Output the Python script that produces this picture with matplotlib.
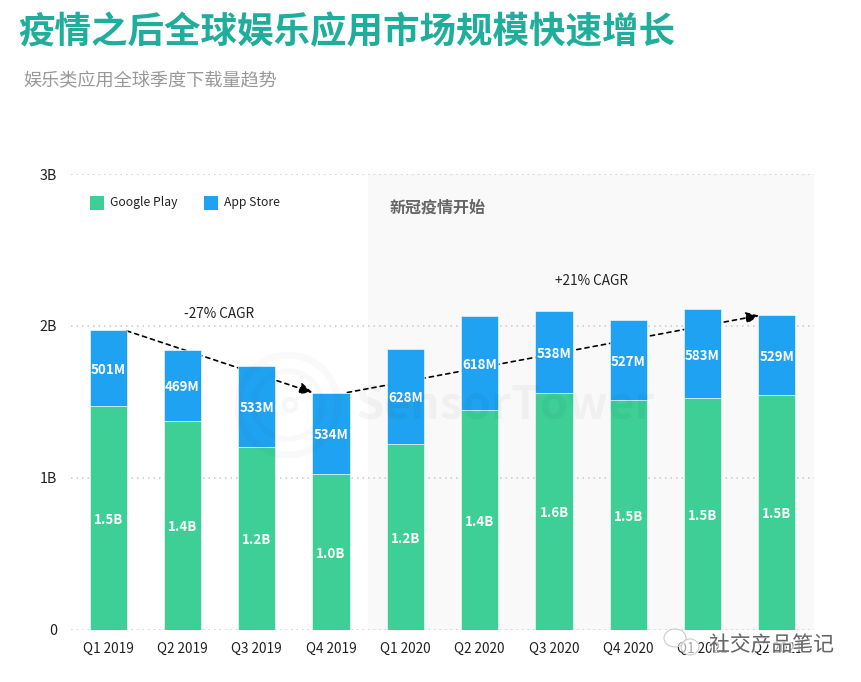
import numpy as np
import matplotlib
matplotlib.use("Agg")
import matplotlib.pyplot as plt
import matplotlib.patheffects as pe
from matplotlib.patches import Circle, Ellipse, Rectangle
from matplotlib.transforms import IdentityTransform

plt.rcParams["font.family"] = ["Noto Sans CJK SC", "DejaVu Sans"]

quarters = ["Q1 2019", "Q2 2019", "Q3 2019", "Q4 2019", "Q1 2020",
            "Q2 2020", "Q3 2020", "Q4 2020", "Q1 2021", "Q2 2021"]
google_play = [1.472, 1.373, 1.202, 1.024, 1.222, 1.446, 1.558, 1.512, 1.525, 1.545]
app_store = [0.501, 0.469, 0.533, 0.534, 0.628, 0.618, 0.538, 0.527, 0.583, 0.529]
google_labels = ["1.5B", "1.4B", "1.2B", "1.0B", "1.2B", "1.4B", "1.6B", "1.5B", "1.5B", "1.5B"]
apple_labels = ["501M", "469M", "533M", "534M", "628M", "618M", "538M", "527M", "583M", "529M"]
yticks = [0, 1, 2, 3]
ytick_labels = ["0", "1B", "2B", "3B"]

GREEN = "#3ecf96"
BLUE = "#1fa2f1"
W, H = 862, 682

fig = plt.figure(figsize=(W / 100, H / 100), dpi=100, facecolor="white")
ax = fig.add_axes([71 / W, 1 - 629.5 / H, 743 / W, 455.5 / H])
x = np.arange(len(quarters))

ax.axvspan(3.5, 9.5, color="#f9f9f9", lw=0, zorder=0)
for v in yticks:
    ax.axhline(v, color="#c9c9c9", lw=1.1, ls=(0, (1, 2.6)), zorder=1)

# dashed trend arrows sit behind the bars
arrow_style = dict(arrowstyle="-|>,head_length=0.55,head_width=0.25", mutation_scale=14,
                   ls=(0, (2.5, 2.5)), lw=1.2, color="black", shrinkA=0, shrinkB=0)
ax.annotate("", xy=(2.75, 1.561), xytext=(0.25, 1.967), zorder=2, arrowprops=arrow_style)
ax.annotate("", xy=(8.76, 2.068), xytext=(3.22, 1.561), zorder=2, arrowprops=arrow_style)

ax.bar(x, google_play, width=0.5, color=GREEN, edgecolor="white", lw=0.4, zorder=3)
ax.bar(x, app_store, width=0.5, bottom=google_play, color=BLUE, edgecolor="white", lw=0.4, zorder=3)

for i in x:
    ax.annotate(google_labels[i], (i, google_play[i] / 2), xytext=(0, -1.3), textcoords="offset points",
                color="white", ha="center", va="center", fontsize=9.6, fontweight="bold", zorder=4)
    ax.annotate(apple_labels[i], (i, google_play[i] + app_store[i] / 2), xytext=(0, -1.3), textcoords="offset points",
                color="white", ha="center", va="center", fontsize=9.6, fontweight="bold", zorder=4)

ax.set_xlim(-0.5, 9.5)
ax.set_ylim(0, 3)
ax.set_xticks(x, quarters, fontsize=9.8, color="#222222")
ax.set_yticks(yticks, ytick_labels, fontsize=10.3, color="#222222")
ax.tick_params(length=0)
ax.tick_params(axis="x", pad=9)
ax.tick_params(axis="y", pad=10)
for s in ax.spines.values():
    s.set_visible(False)

ax.text(1.49, 2.077, "-27% CAGR", ha="center", va="center", fontsize=9.8, color="#222222", zorder=4)
ax.text(6.5, 2.297, "+21% CAGR", ha="center", va="center", fontsize=9.8, color="#222222", zorder=4)
ax.text(3.79, 2.78, "新冠疫情开始", ha="left", va="center", fontsize=11.5, fontweight="bold", color="#666666", zorder=4)

# legend drawn by hand to keep the squares and spacing
fig.add_artist(Rectangle((90 / W, 1 - 210 / H), 14 / W, 14 / H, color=GREEN, lw=0))
fig.text(110 / W, 1 - 203 / H, "Google Play", fontsize=8.8, va="center", color="#222222")
fig.add_artist(Rectangle((204 / W, 1 - 210 / H), 14 / W, 14 / H, color=BLUE, lw=0))
fig.text(224 / W, 1 - 203 / H, "App Store", fontsize=8.8, va="center", color="#222222")

fig.text(18 / W, 1 - 33 / H, "疫情之后全球娱乐应用市场规模快速增长", fontsize=26.3, fontweight="bold",
         color="#1fae9b", va="center")
fig.text(23 / W, 1 - 81 / H, "娱乐类应用全球季度下载量趋势", fontsize=13.1, color="#999999", va="center")

# Sensor Tower watermark
px = IdentityTransform()
for r, lw in [(50, 5), (34, 4)]:
    fig.add_artist(Circle((288, H - 405), r, fill=False, ec="black", lw=lw, alpha=0.025, transform=px, zorder=5))
fig.add_artist(Circle((290, H - 405), 6, fill=False, ec="black", lw=3, alpha=0.03, transform=px, zorder=5))
fig.text(355 / W, 1 - 406 / H, "SensorTower", fontsize=33, fontweight="bold", color="#000000", alpha=0.035,
         va="center", zorder=5)

# WeChat watermark over the last tick labels
for cx, cy, rx, ry in [(675, 638, 11, 9), (690, 647, 9, 8)]:
    fig.add_artist(Ellipse((cx, H - cy), 2 * rx, 2 * ry, fc=(1, 1, 1, 0.6), ec="#cccccc", lw=0.8,
                           transform=px, zorder=6))
fig.text(709 / W, 1 - 645 / H, "社交产品笔记", fontsize=15, color="#666666", va="center", zorder=7,
         path_effects=[pe.withStroke(linewidth=2.5, foreground="white", alpha=0.7)])

fig.savefig("out.png", dpi=100)
